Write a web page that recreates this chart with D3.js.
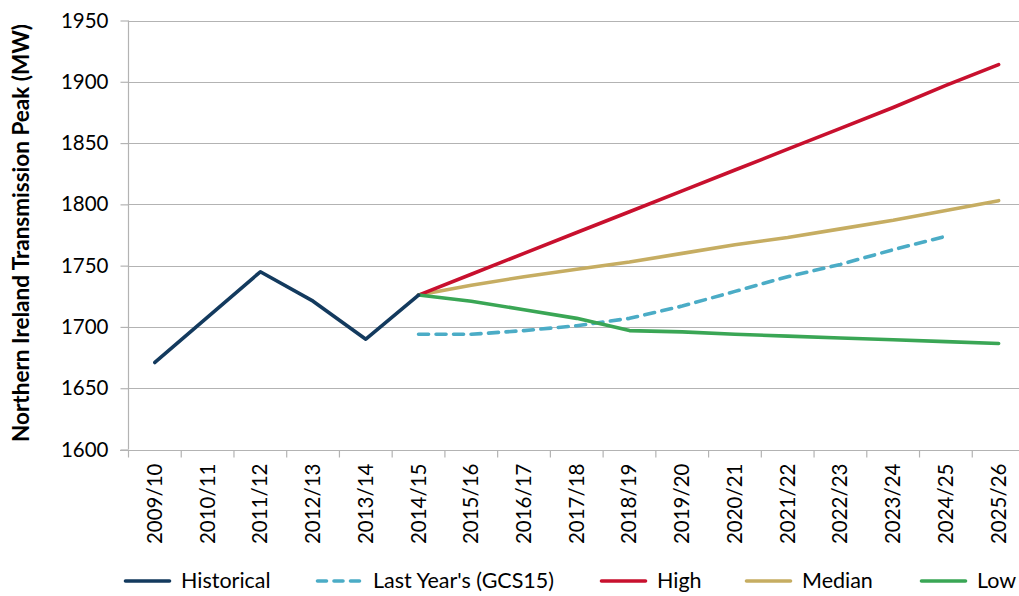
<!DOCTYPE html>
<html>
<head>
<meta charset="utf-8">
<script src="https://cdn.jsdelivr.net/npm/d3@7"></script>
<style>
  body { margin: 0; background: #fff; }
  svg { display: block; font-family: Lato, "Open Sans", sans-serif; }
</style>
</head>
<body>
<div id="chart"></div>
<script>
(function () {

  const years = ['2009/10','2010/11','2011/12','2012/13','2013/14','2014/15','2015/16','2016/17',
    '2017/18','2018/19','2019/20','2020/21','2021/22','2022/23','2023/24','2024/25','2025/26']

  const historical = [1671, 1708, 1745, 1721, 1690, 1726]
  const lastYears = [1694, 1694, 1697, 1701, 1707, 1717, 1729, 1741, 1751, 1763, 1774]
  const high = [1726, 1743, 1760, 1777, 1794, 1811, 1828, 1845, 1862, 1879, 1897, 1914]
  const median = [1726, 1734, 1741, 1747, 1753, 1760, 1767, 1773, 1780, 1787, 1795, 1803]
  const low = [1726, 1721, 1714, 1707, 1697, 1696, 1694, 1692.5, 1691, 1689.5, 1688, 1686.5]

  const yTicks = [1600, 1650, 1700, 1750, 1800, 1850, 1900, 1950]

  const series = [
    { name: 'Historical', values: historical, start: 0, color: '#133a5e', dash: null },
    { name: "Last Year's (GCS15)", values: lastYears, start: 5, color: '#4bacc6', dash: '10,7.5' },
    { name: 'High', values: high, start: 5, color: '#c8102e', dash: null },
    { name: 'Median', values: median, start: 5, color: '#c6ad62', dash: null },
    { name: 'Low', values: low, start: 5, color: '#3aa655', dash: null }
  ]

  const width = 1019
  const height = 596

  const svg = d3.select('#chart').append('svg')
      .attr('width', width)
      .attr('height', height)

  // plot runs off the right edge, like the original
  const xPositionScale = d3.scaleBand()
    .domain(years)
    .range([128.5, 1025])

  const yPositionScale = d3.scaleLinear()
    .domain([1600, 1950])
    .range([449.5, 20.5])

  // gridlines
  svg.append('g')
    .selectAll('line')
    .data(yTicks.slice(1))
    .join('line')
    .attr('x1', 128.5)
    .attr('x2', width)
    .attr('y1', d => Math.round(yPositionScale(d)) + 0.5)
    .attr('y2', d => Math.round(yPositionScale(d)) + 0.5)
    .attr('stroke', '#b3b3b3')
    .attr('stroke-width', 1.2)

  const yAxis = d3.axisLeft(yPositionScale)
    .tickValues(yTicks)
    .tickFormat(d3.format('d'))
    .tickSize(8)
    .tickPadding(12)
  const yG = svg.append('g')
    .attr('class', 'axis y-axis')
    .attr('transform', 'translate(128.5,0)')
    .call(yAxis)
  yG.select('.domain').remove()
  yG.append('line')
    .attr('y1', yPositionScale(1950)).attr('y2', yPositionScale(1600))
    .attr('stroke', '#b3b3b3').attr('stroke-width', 1.2)
  yG.selectAll('.tick line').attr('stroke', '#b3b3b3').attr('stroke-width', 1.2)
  yG.selectAll('.tick text')
    .attr('font-size', 20.5)
    .attr('font-family', 'Lato, sans-serif')
    .attr('fill', '#000')

  // x axis with ticks at band boundaries
  const xG = svg.append('g')
    .attr('class', 'axis x-axis')
    .attr('transform', 'translate(0,' + (Math.round(yPositionScale(1600)) + 0.5) + ')')
  xG.append('line')
    .attr('x1', 120).attr('x2', width)
    .attr('stroke', '#b3b3b3').attr('stroke-width', 1.2)
  xG.selectAll('line.tk')
    .data(years)
    .join('line')
    .attr('class', 'tk')
    .attr('x1', d => xPositionScale(d))
    .attr('x2', d => xPositionScale(d))
    .attr('y1', 0).attr('y2', 7)
    .attr('stroke', '#b3b3b3').attr('stroke-width', 1.2)
  xG.selectAll('text')
    .data(years)
    .join('text')
    .attr('transform', d => 'translate(' + (xPositionScale(d) + xPositionScale.bandwidth() / 2 + 7) + ',13) rotate(-90)')
    .attr('text-anchor', 'end')
    .attr('font-size', 20.5)
    .text(d => d)

  // y axis title
  svg.append('text')
    .attr('transform', 'translate(29,233) rotate(-90)')
    .attr('text-anchor', 'middle')
    .attr('font-size', 22.5)
    .attr('font-weight', 'bold')
    .text('Northern Ireland Transmission Peak (MW)')

  const line = d3.line()
    .x(d => xPositionScale(d.year) + xPositionScale.bandwidth() / 2)
    .y(d => yPositionScale(d.value))

  // draw forecasts first so the historical line stays on top at the join
  const drawOrder = [series[1], series[3], series[2], series[4], series[0]]
  svg.append('g')
    .selectAll('path')
    .data(drawOrder)
    .join('path')
    .attr('d', s => line(s.values.map((v, i) => ({ year: years[s.start + i], value: v }))))
    .attr('fill', 'none')
    .attr('stroke', s => s.color)
    .attr('stroke-width', 3.6)
    .attr('stroke-linejoin', 'round')
    .attr('stroke-linecap', 'round')
    .attr('stroke-dasharray', s => s.dash)

  // legend
  const legendX = [124, 316, 600, 745, 920]
  const legend = svg.append('g')
    .attr('transform', 'translate(0,581)')
  const items = legend.selectAll('g')
    .data(series)
    .join('g')
    .attr('transform', (d, i) => 'translate(' + legendX[i] + ',0)')
  items.append('line')
    .attr('x1', 1.5).attr('x2', 45.5)
    .attr('stroke', d => d.color)
    .attr('stroke-width', 3.6)
    .attr('stroke-linecap', 'round')
    .attr('stroke-dasharray', d => d.dash ? '9,7.5' : null)
  items.append('text')
    .attr('x', 57)
    .attr('dy', 7)
    .attr('font-size', 21.5)
    .text(d => d.name)

})();
</script>
</body>
</html>
